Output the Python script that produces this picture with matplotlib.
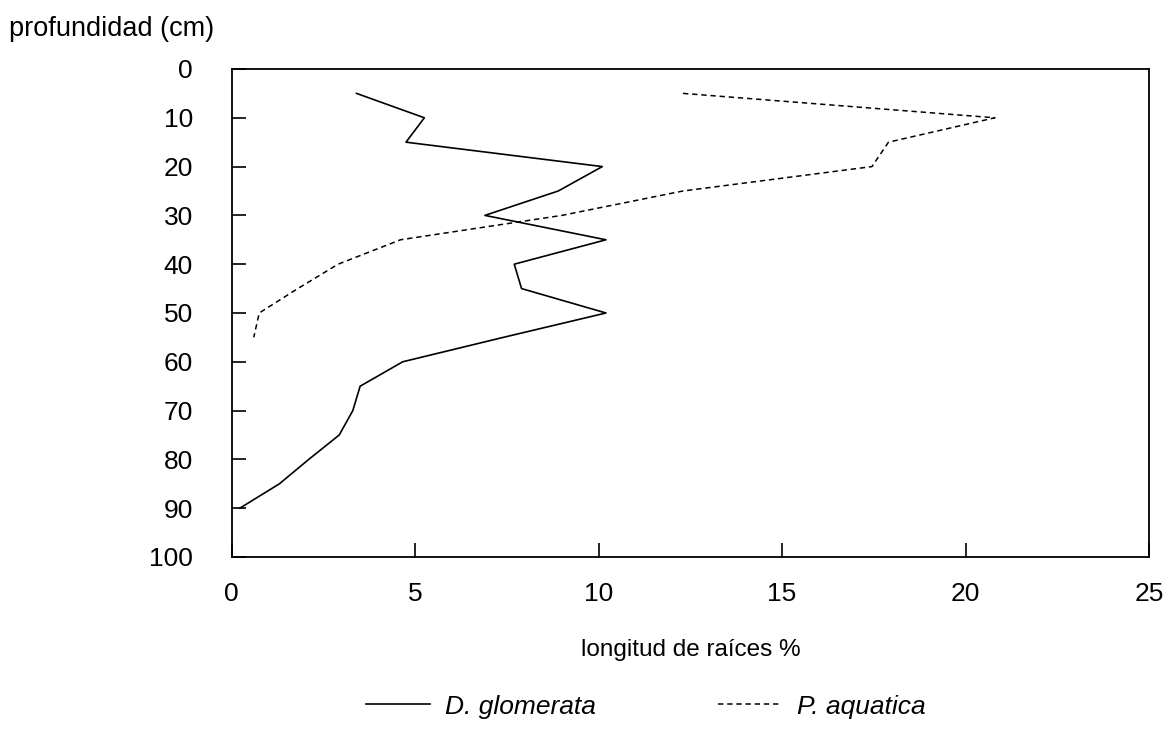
import matplotlib.pyplot as plt
import numpy as np

plt.rcParams['font.family'] = ['Liberation Sans', 'DejaVu Sans']

# depth (cm) and root length share (%) per species
depth_glom = [5, 10, 15, 20, 25, 30, 35, 40, 45, 50, 55, 60, 65, 70, 75, 80, 85, 90]
glom = [3.4, 5.25, 4.75, 10.1, 8.9, 6.9, 10.2, 7.7, 7.9, 10.2, 7.4, 4.66, 3.5, 3.3, 2.93, 2.1, 1.3, 0.22]

depth_aqua = [5, 10, 15, 20, 25, 30, 35, 40, 45, 50, 55]
aqua = [12.3, 20.8, 17.9, 17.45, 12.3, 9.0, 4.6, 2.9, 1.8, 0.75, 0.6]

xticks = [0, 5, 10, 15, 20, 25]
yticks = list(range(0, 101, 10))


def plot_roots():
    fig = plt.figure(figsize=(11.68, 7.3), dpi=100)
    ax = fig.add_axes([0.1984, 0.237, 0.7853, 0.6685])

    ax.plot(glom, depth_glom, color='black', linewidth=1.2, label='D. glomerata')
    ax.plot(aqua, depth_aqua, color='black', linewidth=1.1,
            linestyle=(0, (3.5, 2.5)), label='P. aquatica')

    ax.set_xlim(0, 25)
    ax.set_ylim(100, 0)
    ax.set_xticks(xticks)
    ax.set_yticks(yticks)
    ax.tick_params(axis='both', direction='in', labelsize=19, width=1.2)
    ax.tick_params(axis='y', length=10, pad=28)
    ax.tick_params(axis='x', length=10, pad=18)
    for s in ax.spines.values():
        s.set_linewidth(1.3)

    ax.set_xlabel('longitud de raíces %', fontsize=17.5, labelpad=24)
    fig.text(0.008, 0.96, 'profundidad (cm)', fontsize=19.5, ha='left', va='center')

    fig.legend(loc='center', bbox_to_anchor=(0.553, 0.032), ncol=2, frameon=False,
               prop={'style': 'italic', 'size': 19}, handlelength=2.4,
               handletextpad=0.6, columnspacing=4.6)

    fig.savefig('out.png', dpi=100)


plot_roots()
